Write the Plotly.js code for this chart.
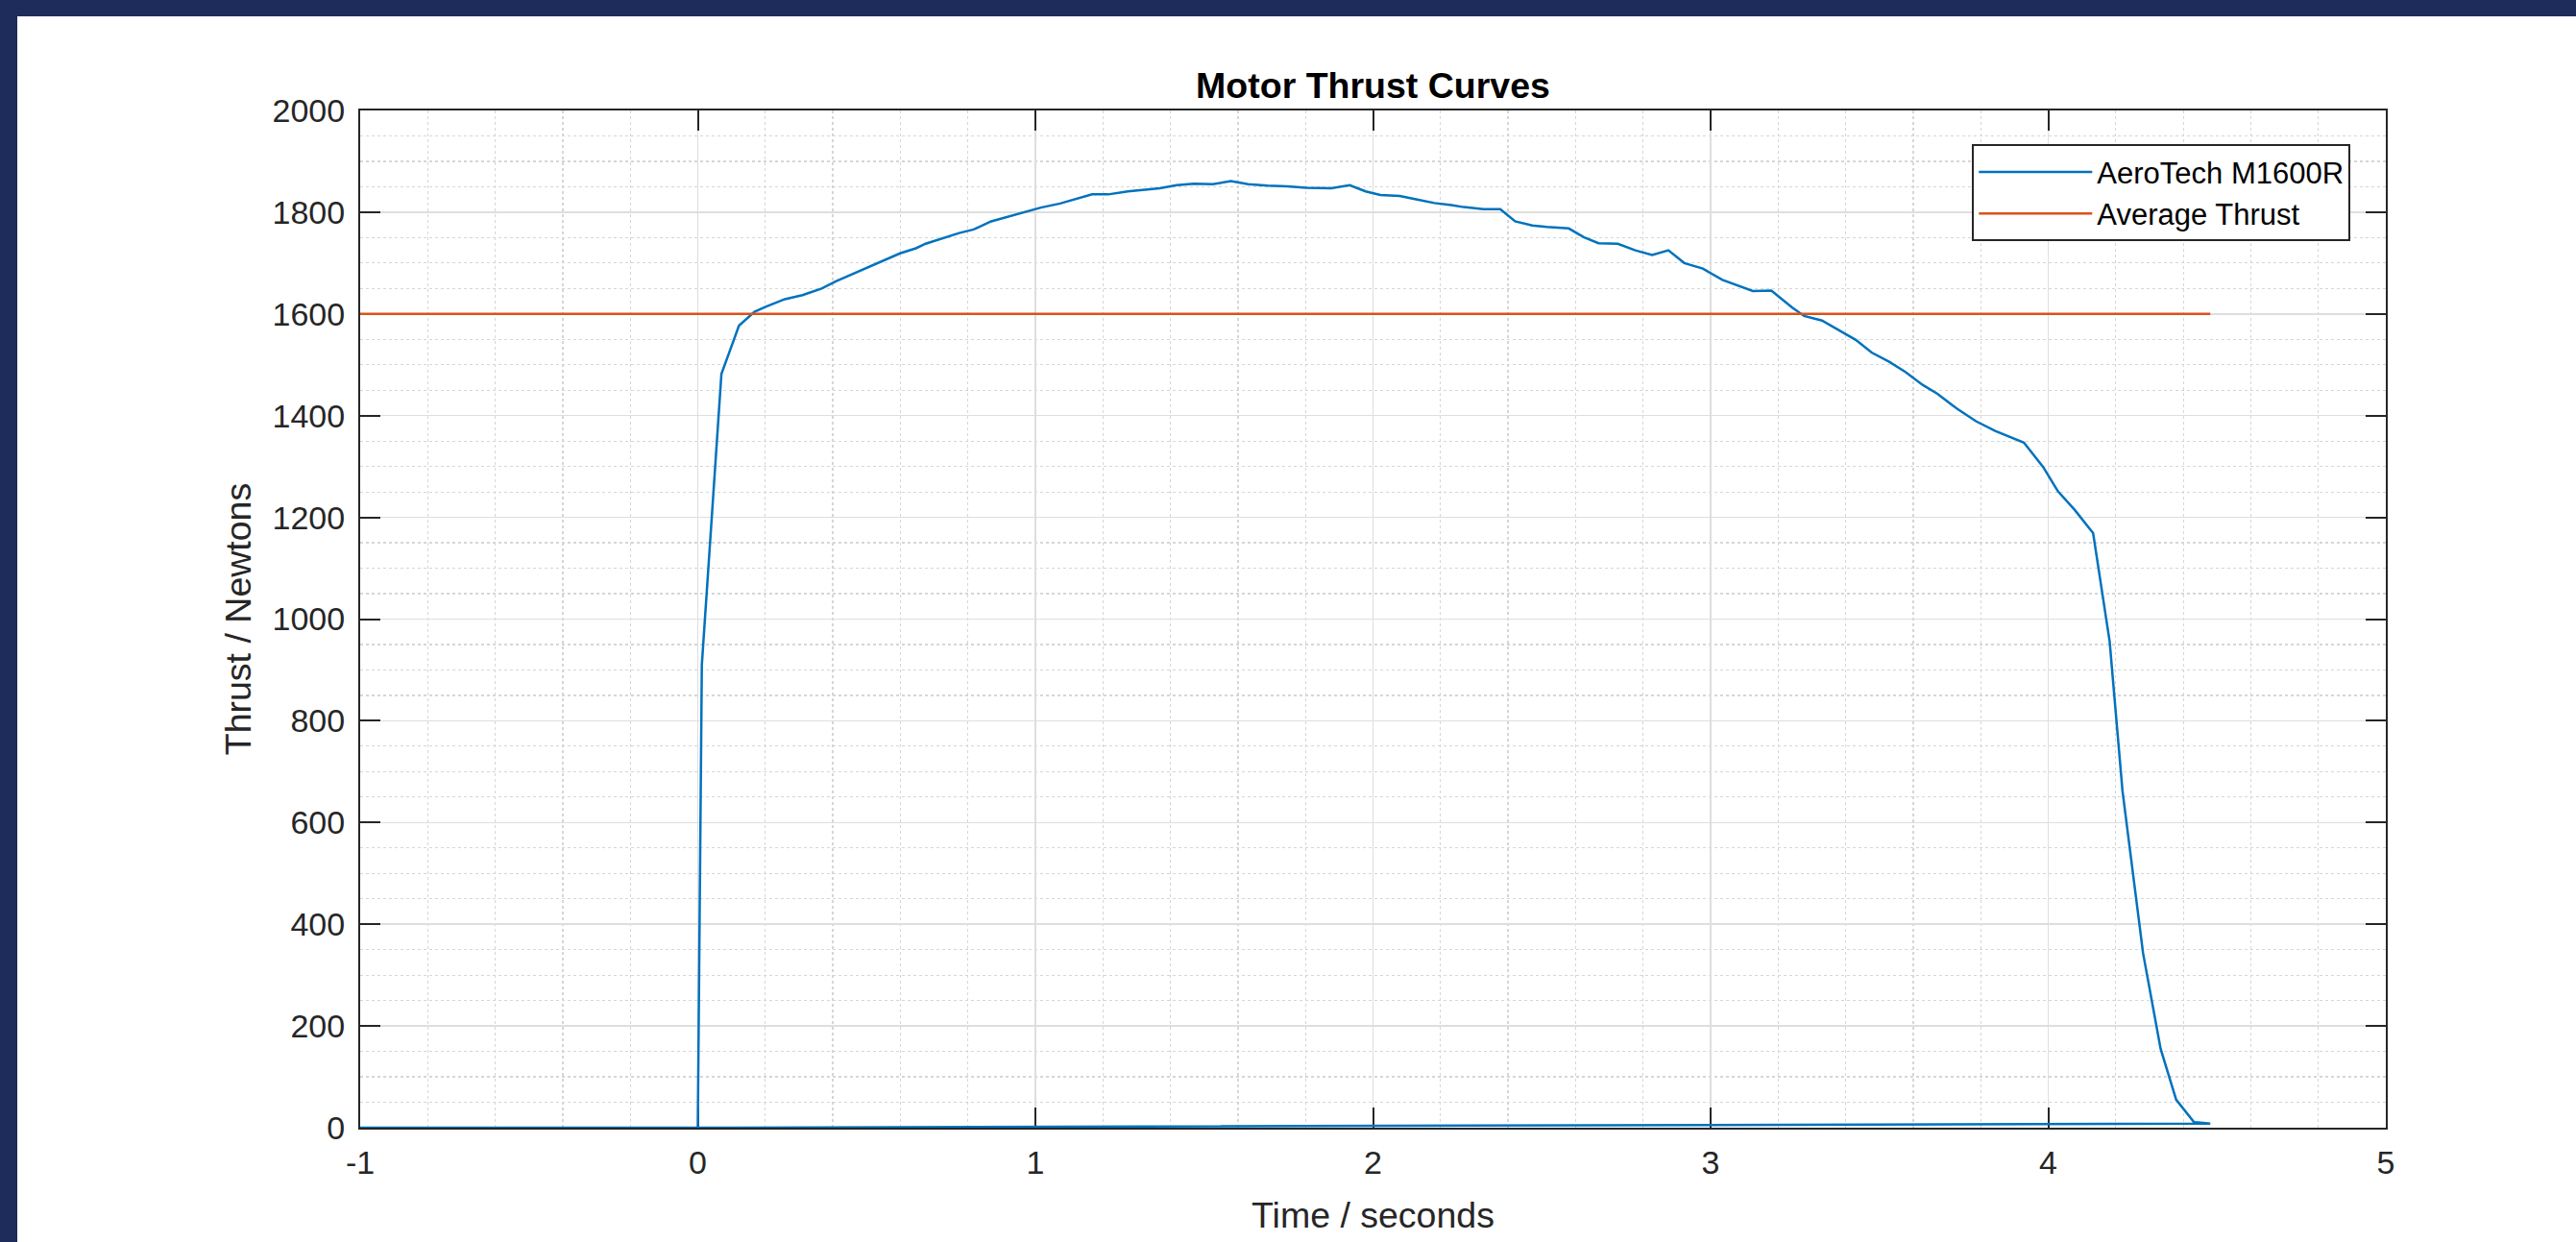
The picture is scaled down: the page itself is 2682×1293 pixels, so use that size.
<!DOCTYPE html>
<html>
<head>
<meta charset="utf-8">
<script src="https://cdn.plot.ly/plotly-3.0.1.min.js"></script>
<style>
html,body{margin:0;padding:0;background:#1d2c5b;width:2682px;height:1293px;overflow:hidden;}
#chart{position:absolute;left:18px;top:17px;width:2664px;height:1276px;background:#ffffff;}
</style>
</head>
<body>
<div id="chart"></div>
<script>
// ---- data ----
const seriesNames = ["AeroTech M1600R", "Average Thrust"];

const thrustTime = [
  -1, 0, 0.012, 0.070, 0.122, 0.168, 0.201, 0.258, 0.310, 0.367, 0.409, 0.447, 0.504, 0.552,
  0.599, 0.646, 0.675, 0.774, 0.817, 0.869, 0.912, 0.969, 1.016, 1.073, 1.149, 1.168, 1.216,
  1.274, 1.368, 1.419, 1.470, 1.525, 1.579, 1.630, 1.688, 1.746, 1.803, 1.876, 1.931, 1.978,
  2.022, 2.079, 2.131, 2.182, 2.232, 2.269, 2.327, 2.377, 2.421, 2.472, 2.515, 2.580, 2.624,
  2.668, 2.725, 2.777, 2.827, 2.875, 2.922, 2.977, 3.035, 3.081, 3.125, 3.180, 3.241, 3.277,
  3.330, 3.430, 3.477, 3.529, 3.577, 3.629, 3.672, 3.729, 3.786, 3.843, 3.928, 3.985, 4.029,
  4.078, 4.133, 4.182, 4.220, 4.281, 4.333, 4.379, 4.432, 4.480, 0
];
const thrustValue = [
  0, 0, 910, 1482, 1577, 1604, 1614, 1629, 1637, 1650, 1664, 1675, 1691, 1705,
  1719, 1729, 1738, 1759, 1766, 1782, 1790, 1801, 1809, 1817, 1832, 1835, 1835,
  1841, 1847, 1853, 1856, 1855, 1861, 1855, 1852, 1851, 1848, 1847, 1853, 1841,
  1834, 1832, 1825, 1818, 1814, 1810, 1806, 1806, 1782, 1774, 1771, 1768, 1751,
  1739, 1738, 1725, 1716, 1725, 1700, 1689, 1667, 1656, 1645, 1646, 1613, 1596,
  1587, 1549, 1524, 1506, 1486, 1460, 1443, 1414, 1389, 1370, 1347, 1299, 1251,
  1215, 1169, 956, 662, 343, 155, 55, 11, 8, 0
];

const avgTime = [-1, 4.48];
const avgValue = [1600, 1600];

const xTickVals = [-1, 0, 1, 2, 3, 4, 5];
const yTickVals = [0, 200, 400, 600, 800, 1000, 1200, 1400, 1600, 1800, 2000];

// ---- styling ----
const axisColor = '#262626';
const font = 'Liberation Sans, Arial, Helvetica, sans-serif';

const traces = [
  {
    x: thrustTime, y: thrustValue, type: 'scatter', mode: 'lines',
    name: seriesNames[0],
    line: {color: '#0072BD', width: 2.5}
  },
  {
    x: avgTime, y: avgValue, type: 'scatter', mode: 'lines',
    name: seriesNames[1],
    line: {color: '#D95319', width: 2.5}
  }
];

const commonAxis = {
  showline: true, linecolor: axisColor, linewidth: 2,
  mirror: 'ticks', ticks: 'inside', ticklen: 21, tickwidth: 2, tickcolor: axisColor,
  showgrid: true, gridcolor: '#dedede', gridwidth: 1.5,
  zeroline: false,
  tickfont: {family: font, size: 34, color: axisColor},
  layer: 'below traces',
  automargin: false
};

const minorGrid = {showgrid: true, griddash: 'dot', gridcolor: '#d6d6d6', gridwidth: 1.2, ticks: ''};

const layout = {
  width: 2664, height: 1276,
  paper_bgcolor: '#ffffff', plot_bgcolor: '#ffffff',
  margin: {l: 357, r: 198, t: 98, b: 119, pad: 0},
  title: {
    text: 'Motor Thrust Curves',
    font: {family: font, size: 37.5, color: '#000000', weight: 'bold'},
    x: 0.5, xref: 'paper', xanchor: 'center',
    y: 0.9436, yref: 'container', yanchor: 'middle'
  },
  xaxis: Object.assign({}, commonAxis, {
    range: [-1, 5], tickvals: xTickVals, ticktext: xTickVals.map(String),
    ticklabelstandoff: 5,
    minor: Object.assign({dtick: 0.2, tick0: 0}, minorGrid),
    title: {text: 'Time / seconds', font: {family: font, size: 37.5, color: axisColor}, standoff: 24}
  }),
  yaxis: Object.assign({}, commonAxis, {
    range: [0, 2000], tickvals: yTickVals, ticktext: yTickVals.map(String),
    ticklabelstandoff: 7,
    minor: Object.assign({dtick: 50, tick0: 0}, minorGrid),
    title: {text: 'Thrust / Newtons', font: {family: font, size: 37.5, color: axisColor}, standoff: 10}
  }),
  showlegend: true,
  legend: {
    x: 0.9826, y: 0.9666, xanchor: 'right', yanchor: 'top',
    xref: 'paper', yref: 'paper',
    bgcolor: '#ffffff', bordercolor: axisColor, borderwidth: 2,
    font: {family: font, size: 31, color: '#000000'},
    itemwidth: 118, tracegroupgap: 0
  }
};

Plotly.newPlot('chart', traces, layout, {displayModeBar: false, staticPlot: true});
</script>
</body>
</html>
